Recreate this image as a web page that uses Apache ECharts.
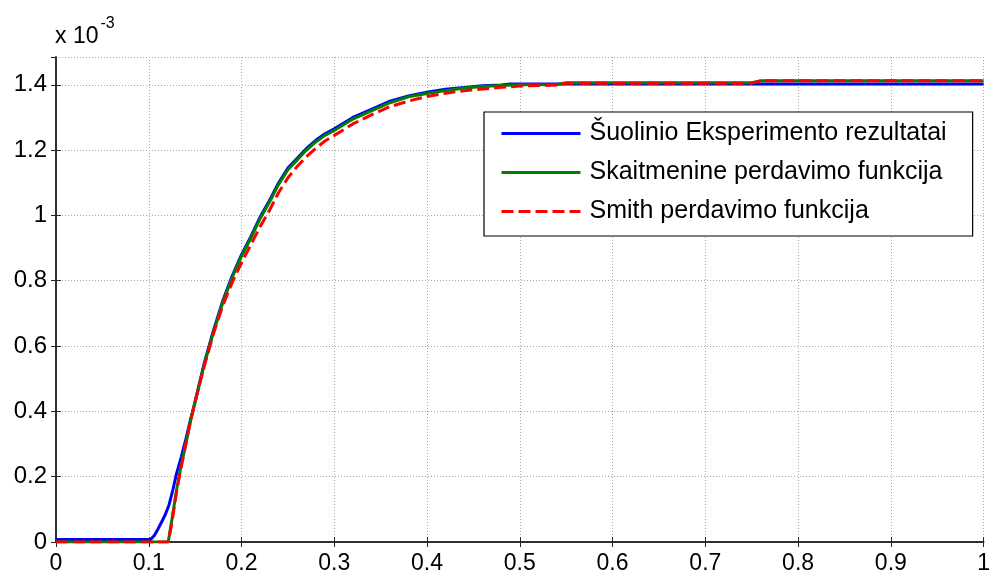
<!DOCTYPE html>
<html>
<head>
<meta charset="utf-8">
<script src="https://cdn.jsdelivr.net/npm/echarts@6/dist/echarts.min.js"></script>
<style>
  html, body { margin: 0; padding: 0; background: #fff; }
  #chart { width: 993px; height: 579px; }
</style>
</head>
<body>
<div id="chart"></div>
<script>
// step response, values in units of 1e-3
var seriesNames = [
  "Šuolinio Eksperimento rezultatai",
  "Skaitmenine perdavimo funkcija",
  "Smith perdavimo funkcija"
];

var tExp = [0, 0.102, 0.106, 0.110, 0.114, 0.118, 0.122, 0.126, 0.130, 0.135, 0.140, 0.145, 0.150,
  0.16, 0.17, 0.18, 0.19, 0.20, 0.21, 0.22, 0.23, 0.24, 0.25, 0.26, 0.27, 0.28, 0.29, 0.30,
  0.32, 0.34, 0.36, 0.38, 0.40, 0.42, 0.44, 0.46, 0.48, 0.49, 1.0];
var vExp = [0.008, 0.008, 0.02, 0.04, 0.062, 0.085, 0.115, 0.16, 0.21, 0.26, 0.315, 0.375, 0.43,
  0.55, 0.65, 0.74, 0.815, 0.88, 0.935, 0.995, 1.045, 1.10, 1.145, 1.175, 1.205, 1.23, 1.25, 1.265,
  1.30, 1.325, 1.35, 1.366, 1.377, 1.386, 1.392, 1.397, 1.399, 1.402, 1.402];

var tModel = [0, 0.121, 0.125, 0.130, 0.135, 0.140, 0.145, 0.150, 0.16, 0.17, 0.18, 0.19, 0.20,
  0.21, 0.22, 0.23, 0.24, 0.25, 0.26, 0.27, 0.28, 0.29, 0.30, 0.32, 0.34, 0.36, 0.38, 0.40,
  0.42, 0.44, 0.46, 0.48, 0.50, 0.54, 0.55, 0.75, 0.76, 1.0];
var vDigital = [0, 0, 0.07, 0.16, 0.235, 0.30, 0.37, 0.43, 0.545, 0.645, 0.735, 0.81, 0.875,
  0.93, 0.99, 1.04, 1.095, 1.14, 1.17, 1.20, 1.225, 1.245, 1.26, 1.295, 1.32, 1.345, 1.363, 1.373,
  1.382, 1.39, 1.395, 1.398, 1.40, 1.401, 1.406, 1.406, 1.412, 1.412];
var vSmith = [0, 0, 0.06, 0.155, 0.23, 0.30, 0.37, 0.43, 0.54, 0.64, 0.725, 0.795, 0.855,
  0.91, 0.965, 1.015, 1.07, 1.115, 1.15, 1.18, 1.205, 1.228, 1.245, 1.28, 1.308, 1.333, 1.35, 1.364,
  1.374, 1.382, 1.387, 1.392, 1.396, 1.399, 1.405, 1.405, 1.412, 1.412];

var xTicks = [0, 0.1, 0.2, 0.3, 0.4, 0.5, 0.6, 0.7, 0.8, 0.9, 1];
var yTicks = [0, 0.2, 0.4, 0.6, 0.8, 1, 1.2, 1.4];

function pairs(t, v) {
  return t.map(function (x, i) { return [x, v[i]]; });
}

var FONT = "'Liberation Sans', Arial, sans-serif";
var myChart = echarts.init(document.getElementById("chart"));

var axisLine = { show: true, lineStyle: { color: "#262626", width: 1.5 } };
var tick = { show: true, inside: true, length: 5, lineStyle: { color: "#262626", width: 1 } };

var option = {
  animation: false,
  backgroundColor: "#fff",
  grid: { left: 56, right: 7, top: 57, bottom: 37 },
  xAxis: [
    {
      type: "value", min: 0, max: 1, interval: 0.1, position: "bottom",
      axisLine: axisLine, axisTick: tick,
      axisLabel: {
        color: "#000", fontSize: 23, fontFamily: FONT, margin: 10,
        formatter: function (v) { return xTicks.indexOf(Math.round(v * 10) / 10) >= 0 ? String(Math.round(v * 10) / 10) : ""; }
      },
      splitLine: { show: true, lineStyle: { color: "#a8a8a8", width: 1, type: [1, 2] } }
    },
    {
      type: "value", min: 0, max: 1, interval: 0.1, position: "top",
      axisLine: axisLine, axisTick: tick, axisLabel: { show: false }, splitLine: { show: false }
    }
  ],
  yAxis: [
    {
      type: "value", min: 0, max: 1.485, interval: 0.2, position: "left",
      axisLine: axisLine, axisTick: tick,
      axisLabel: {
        color: "#000", fontSize: 24, fontFamily: FONT, margin: 9, showMaxLabel: false,
        formatter: function (v) {
          var r = Math.round(v * 10) / 10;
          return yTicks.indexOf(r) >= 0 && Math.abs(v - r) < 1e-6 ? String(r) : "";
        }
      },
      splitLine: { show: true, lineStyle: { color: "#a8a8a8", width: 1, type: [1, 2] } }
    },
    {
      type: "value", min: 0, max: 1.485, interval: 0.2, position: "right",
      axisLine: axisLine, axisTick: tick, axisLabel: { show: false }, splitLine: { show: false }
    }
  ],
  legend: {
    orient: "vertical",
    left: 484, top: 112,
    padding: [9, 26, 12, 16],
    itemGap: 14,
    itemWidth: 79,
    itemHeight: 24,
    backgroundColor: "#fff",
    borderColor: "#000",
    borderWidth: 1.2,
    borderRadius: 0,
    itemStyle: { opacity: 0 },
    lineStyle: { width: 3 },
    textStyle: { color: "#000", fontSize: 25, fontFamily: FONT, padding: [0, 0, 0, 4] },
    data: seriesNames
  },
  graphic: [
    {
      type: "text", left: 55, top: 16,
      style: {
        text: "{a|x 10}{b|-3}",
        rich: {
          a: { fontSize: 23, fontFamily: FONT, color: "#000", padding: [14, 2, 0, 0] },
          b: { fontSize: 16, fontFamily: FONT, color: "#000", padding: [0, 0, 12, 0] }
        }
      }
    }
  ],
  series: [
    {
      name: seriesNames[0], type: "line", symbol: "none", data: pairs(tExp, vExp),
      lineStyle: { color: "#0000ff", width: 3 }, itemStyle: { color: "#0000ff" }, z: 2
    },
    {
      name: seriesNames[1], type: "line", symbol: "none", data: pairs(tModel, vDigital),
      lineStyle: { color: "#008000", width: 3 }, itemStyle: { color: "#008000" }, z: 3
    },
    {
      name: seriesNames[2], type: "line", symbol: "none", data: pairs(tModel, vSmith),
      lineStyle: { color: "#ff0000", width: 3, type: [12, 5] }, itemStyle: { color: "#ff0000" }, z: 4
    }
  ]
};

myChart.setOption(option);
</script>
</body>
</html>
